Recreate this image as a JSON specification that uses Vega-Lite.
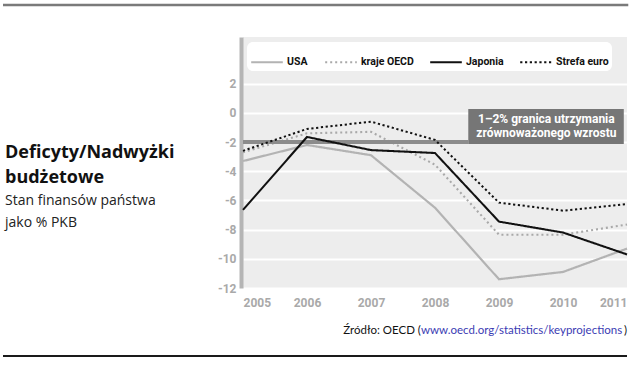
{
  "$schema": "https://vega.github.io/schema/vega-lite/v6.json",
  "width": 384,
  "height": 251,
  "autosize": {"type": "none"},
  "padding": {"left": 243, "top": 37, "right": 5, "bottom": 83},
  "background": "white",
  "title": {
    "text": ["Deficyty/Nadwyżki", "budżetowe"],
    "subtitle": ["Stan finansów państwa", "jako % PKB"],
    "anchor": "start",
    "frame": "group",
    "orient": "top",
    "dx": -238,
    "dy": 226,
    "offset": 0,
    "font": "Open Sans",
    "fontSize": 18,
    "fontWeight": "bold",
    "color": "#111111",
    "lineHeight": 25,
    "subtitleFont": "Open Sans",
    "subtitleFontSize": 14,
    "subtitleLineHeight": 22,
    "subtitleColor": "#222222",
    "subtitlePadding": 7
  },
  "config": {
    "view": {"stroke": null, "fill": "#ededed"},
    "axis": {
      "labelFont": "Roboto",
      "labelFontWeight": "bold",
      "labelColor": "#a9a9a9",
      "labelFontSize": 12,
      "labelOverlap": false,
      "ticks": false,
      "title": null
    },
    "legend": {
      "orient": "none",
      "legendX": 4,
      "legendY": 5,
      "direction": "horizontal",
      "title": null,
      "symbolType": "stroke",
      "symbolSize": 1000,
      "labelFont": "Roboto",
      "labelFontWeight": "bold",
      "labelFontSize": 10.5,
      "labelColor": "#111111",
      "fillColor": "white",
      "padding": 3,
      "columnPadding": 12,
      "labelOffset": 3,
      "cornerRadius": 6
    }
  },
  "datasets": {
    "deficits": [
      {"year": 2005, "series": "USA", "value": -3.3},
      {"year": 2006, "series": "USA", "value": -2.2},
      {"year": 2007, "series": "USA", "value": -2.9},
      {"year": 2008, "series": "USA", "value": -6.5},
      {"year": 2009, "series": "USA", "value": -11.4},
      {"year": 2010, "series": "USA", "value": -10.9},
      {"year": 2011, "series": "USA", "value": -9.3},
      {"year": 2005, "series": "kraje OECD", "value": -2.7},
      {"year": 2006, "series": "kraje OECD", "value": -1.4},
      {"year": 2007, "series": "kraje OECD", "value": -1.3},
      {"year": 2008, "series": "kraje OECD", "value": -3.55},
      {"year": 2009, "series": "kraje OECD", "value": -8.35},
      {"year": 2010, "series": "kraje OECD", "value": -8.35},
      {"year": 2011, "series": "kraje OECD", "value": -7.65},
      {"year": 2005, "series": "Japonia", "value": -6.65},
      {"year": 2006, "series": "Japonia", "value": -1.65},
      {"year": 2007, "series": "Japonia", "value": -2.55},
      {"year": 2008, "series": "Japonia", "value": -2.75},
      {"year": 2009, "series": "Japonia", "value": -7.45},
      {"year": 2010, "series": "Japonia", "value": -8.2},
      {"year": 2011, "series": "Japonia", "value": -9.7},
      {"year": 2005, "series": "Strefa euro", "value": -2.6},
      {"year": 2006, "series": "Strefa euro", "value": -1.1},
      {"year": 2007, "series": "Strefa euro", "value": -0.6},
      {"year": 2008, "series": "Strefa euro", "value": -1.85},
      {"year": 2009, "series": "Strefa euro", "value": -6.15},
      {"year": 2010, "series": "Strefa euro", "value": -6.7},
      {"year": 2011, "series": "Strefa euro", "value": -6.25}
    ],
    "one": [{}]
  },
  "layer": [
    {
      "data": {"name": "deficits"},
      "transform": [{"filter": "datum.series == 'USA' || datum.series == 'kraje OECD'"}],
      "mark": {"type": "line", "strokeCap": "butt"},
      "encoding": {
        "x": {
          "field": "year", "type": "quantitative",
          "scale": {"domain": [2005, 2011], "nice": false, "zero": false},
          "axis": {
            "values": [2005, 2006, 2007, 2008, 2009, 2010, 2011],
            "format": "d",
            "domain": false,
            "grid": false,
            "labelPadding": 9,
            "labelFlush": true
          }
        },
        "y": {
          "field": "value", "type": "quantitative",
          "scale": {"domain": [-12, 5.2], "nice": false, "zero": false},
          "axis": {
            "values": [-12, -10, -8, -6, -4, -2, 0, 2],
            "tickCount": 9,
            "labelOverlap": false,
            "labelExpr": "'' + datum.value",
            "domain": true,
            "domainColor": "#b5b5b5",
            "domainWidth": 4,
            "offset": 2,
            "labelPadding": 5,
            "grid": true,
            "gridColor": "white",
            "gridWidth": 2
          }
        },
        "color": {
          "field": "series", "type": "nominal",
          "scale": {"domain": ["USA", "kraje OECD", "Japonia", "Strefa euro"], "range": ["#b3b3b3", "#a9a9a9", "#111111", "#111111"]}
        },
        "strokeDash": {
          "field": "series", "type": "nominal",
          "scale": {"domain": ["USA", "kraje OECD", "Japonia", "Strefa euro"], "range": [[1, 0], [2, 3], [1, 0], [2.2, 2.6]]}
        },
        "strokeWidth": {
          "field": "series", "type": "nominal",
          "scale": {"domain": ["USA", "kraje OECD", "Japonia", "Strefa euro"], "range": [2.2, 2, 3, 3]}
        }
      }
    },
    {
      "data": {"name": "one"},
      "mark": {"type": "rule", "color": "#8c8c8c", "strokeWidth": 4},
      "encoding": {
        "x": {"datum": 2005, "type": "quantitative"},
        "x2": {"datum": 2008.52},
        "y": {"datum": -2, "type": "quantitative"}
      }
    },
    {
      "data": {"name": "deficits"},
      "transform": [{"filter": "datum.series == 'Japonia' || datum.series == 'Strefa euro'"}],
      "mark": {"type": "line", "strokeCap": "butt"},
      "encoding": {
        "x": {"field": "year", "type": "quantitative"},
        "y": {"field": "value", "type": "quantitative"},
        "color": {"field": "series", "type": "nominal"},
        "strokeDash": {"field": "series", "type": "nominal"},
        "strokeWidth": {"field": "series", "type": "nominal"}
      }
    },
    {
      "data": {"name": "one"},
      "mark": {"type": "rect", "color": "#767676"},
      "encoding": {
        "x": {"datum": 2008.52, "type": "quantitative"},
        "x2": {"datum": 2010.95},
        "y": {"datum": 0.27, "type": "quantitative"},
        "y2": {"datum": -2.13}
      }
    },
    {
      "data": {"name": "one"},
      "mark": {"type": "text", "text": ["1–2% granica utrzymania", "zrównoważonego wzrostu"], "color": "white", "font": "Roboto", "fontWeight": "bold", "fontSize": 12, "lineHeight": 14, "align": "center", "baseline": "middle"},
      "encoding": {
        "x": {"datum": 2009.74, "type": "quantitative"},
        "y": {"datum": -0.45, "type": "quantitative"}
      }
    },
    {
      "data": {"name": "one"},
      "mark": {"type": "text", "text": "Źródło: OECD (", "color": "#111111", "font": "Lato", "fontSize": 11.5, "align": "right", "baseline": "alphabetic"},
      "encoding": {
        "x": {"datum": 2007.78, "type": "quantitative"},
        "y": {"datum": -15.15, "type": "quantitative"}
      }
    },
    {
      "data": {"name": "one"},
      "mark": {"type": "text", "text": "www.oecd.org/statistics/keyprojections", "color": "#3b3bb3", "font": "Lato", "fontSize": 11.5, "align": "left", "baseline": "alphabetic"},
      "encoding": {
        "x": {"datum": 2007.78, "type": "quantitative"},
        "y": {"datum": -15.15, "type": "quantitative"}
      }
    },
    {
      "data": {"name": "one"},
      "mark": {"type": "text", "text": ")", "color": "#111111", "font": "Lato", "fontSize": 11.5, "align": "right", "baseline": "alphabetic"},
      "encoding": {
        "x": {"datum": 2011, "type": "quantitative"},
        "y": {"datum": -15.15, "type": "quantitative"}
      }
    },
    {
      "data": {"name": "one"},
      "mark": {"type": "rule", "color": "#7a7a7a", "strokeWidth": 2.5},
      "encoding": {
        "x": {"datum": 2001.25, "type": "quantitative"},
        "x2": {"datum": 2011.02},
        "y": {"datum": 7.4, "type": "quantitative"}
      }
    },
    {
      "data": {"name": "one"},
      "mark": {"type": "rule", "color": "#1a1a1a", "strokeWidth": 2},
      "encoding": {
        "x": {"datum": 2001.25, "type": "quantitative"},
        "x2": {"datum": 2011.0},
        "y": {"datum": -16.66, "type": "quantitative"}
      }
    }
  ]
}
